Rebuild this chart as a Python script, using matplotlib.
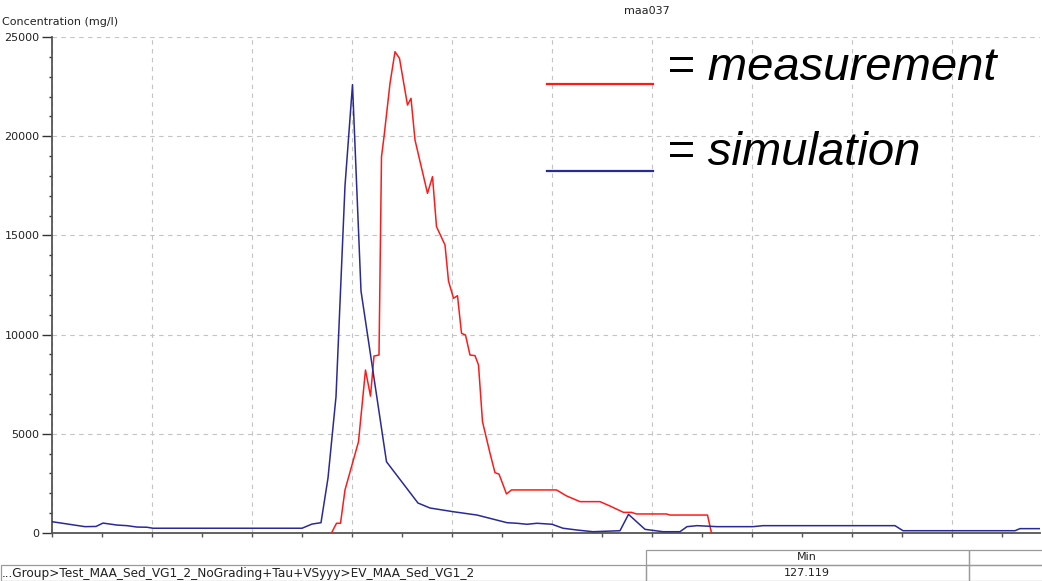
import matplotlib
matplotlib.use("Agg")
import matplotlib.pyplot as plt
from matplotlib.lines import Line2D
from matplotlib.patches import Rectangle
from matplotlib.ticker import MultipleLocator, NullFormatter

# time steps (arbitrary units) and concentrations in mg/l
sim_t = [0, 6.6, 8.8, 10.2, 13, 15, 17, 19, 20.2, 50, 52, 53.8, 55.2, 56.8,
         58.6, 60.1, 61.8, 66.9, 73.2, 75.6, 80.2, 85, 91, 93, 95, 97, 100,
         102.2, 105, 108.2, 113.6, 115.3, 118.6, 122.2, 125.6, 127, 129, 133,
         140.2, 142.2, 168.6, 170.2, 192.6, 193.6, 197.6]
sim_c = [570, 320, 330, 500, 400, 370, 300, 290, 240, 240, 450, 520, 2770, 6870,
         17500, 22600, 12200, 3590, 1510, 1260, 1075, 905, 520, 490, 440, 490, 440,
         240, 150, 65, 115, 940, 185, 65, 65, 320, 370, 320,
         320, 370, 370, 115, 115, 220, 220]

meas_t = [55.9, 56.9, 57.7, 58.6, 59.9, 61.3, 62.7, 63.7, 64.4, 65.4, 65.9, 66.4,
          67.6, 68.6, 69.5, 71.1, 71.8, 72.6, 75.1, 76.1, 76.9, 78.6, 79.3, 80.3,
          81.1, 81.9, 82.7, 83.6, 84.6, 85.3, 86.1, 87.6, 88.6, 89.4, 90.9, 91.9,
          100.9, 102.9, 105.6, 109.6, 111.6, 114.3, 115.9, 116.9, 122.9, 123.6,
          131.1, 131.9]
meas_c = [0, 490, 490, 2170, 3340, 4600, 8215, 6900, 8920, 8970, 18970, 19970,
          22660, 24260, 23920, 21570, 21910, 19810, 17120, 17960, 15440, 14520, 12700, 11830,
          11960, 10065, 9980, 8970, 8940, 8470, 5610, 4020, 3040, 2970, 1970, 2170,
          2170, 1870, 1580, 1580, 1360, 1040, 1040, 960, 960, 905,
          905, 0]

title = "maa037"
y_label = "Concentration (mg/l)"
legend_labels = ["= measurement", "= simulation"]
row_name = "...Group>Test_MAA_Sed_VG1_2_NoGrading+Tau+VSyyy>EV_MAA_Sed_VG1_2"
col_header = "Min"
min_value = "127.119"

W, H = 1042, 581
RED = "#ff1a1a"
BLUE = "#2a2a96"
GRID = "#c4c4c4"
AXIS = "#555555"

fig = plt.figure(figsize=(W / 100, H / 100), dpi=100)
ax = fig.add_axes([52 / W, 48 / H, 988 / W, 496 / H])

ax.plot(meas_t, meas_c, color=RED, lw=1.1, zorder=3)
ax.plot(sim_t, sim_c, color=BLUE, lw=1.1, zorder=3)

ax.set_xlim(0, 197.6)
ax.set_ylim(0, 25000)

ax.xaxis.set_major_locator(MultipleLocator(20))
ax.xaxis.set_minor_locator(MultipleLocator(10))
ax.xaxis.set_major_formatter(NullFormatter())
ax.yaxis.set_major_locator(MultipleLocator(5000))
ax.yaxis.set_minor_locator(MultipleLocator(1000))

ax.grid(True, which="major", color=GRID, lw=0.8, linestyle=(0, (4, 4)), zorder=0)
for s in ("top", "right"):
    ax.spines[s].set_visible(False)
for s in ("left", "bottom"):
    ax.spines[s].set_color(AXIS)
    ax.spines[s].set_linewidth(1.3)

ax.tick_params(axis="x", which="both", length=3, width=1, color=AXIS, direction="out")
ax.tick_params(axis="y", which="major", length=7, width=1, color="#333333",
               labelsize=8, pad=2, labelcolor="#222222")
ax.tick_params(axis="y", which="minor", length=2.5, width=1, color="#333333")

fig.text(2 / W, 1 - 22 / H, y_label, fontsize=8, color="#222222", va="center", ha="left")
fig.text(647 / W, 1 - 11 / H, title, fontsize=8, color="#222222", va="center", ha="center")

# legend drawn as plain lines and large italic text
for i, (col, lab) in enumerate(zip([RED, BLUE], legend_labels)):
    ly = [84, 171][i]
    by = [80, 165][i]
    fig.add_artist(Line2D([547 / W, 653 / W], [1 - ly / H, 1 - ly / H], color=col, lw=1.6))
    fig.text(667 / W, 1 - by / H, lab, fontsize=34, style="italic",
             family="Liberation Sans", va="baseline", ha="left", color="black")

# summary table under the plot
tab = fig.add_axes([0, 0, 1, 33 / H])
tab.set_xlim(0, W)
tab.set_ylim(33, 0)
tab.axis("off")
edge = "#9a9a9a"
cells = [(646, 2, 323, 15), (969, 2, 80, 15), (1, 17, 645, 16), (646, 17, 323, 16), (969, 17, 80, 16)]
for x0, y0, w, h in cells:
    tab.add_patch(Rectangle((x0, y0), w, h, fill=False, ec=edge, lw=0.9, clip_on=False))
tab.text(807, 9.5, col_header, fontsize=8, ha="center", va="center", color="#222222")
tab.text(807, 25.5, min_value, fontsize=8, ha="center", va="center", color="#222222")
tab.text(2, 25.5, row_name, fontsize=8.7, ha="left", va="center", color="#222222")

fig.savefig("out.png", dpi=100)
